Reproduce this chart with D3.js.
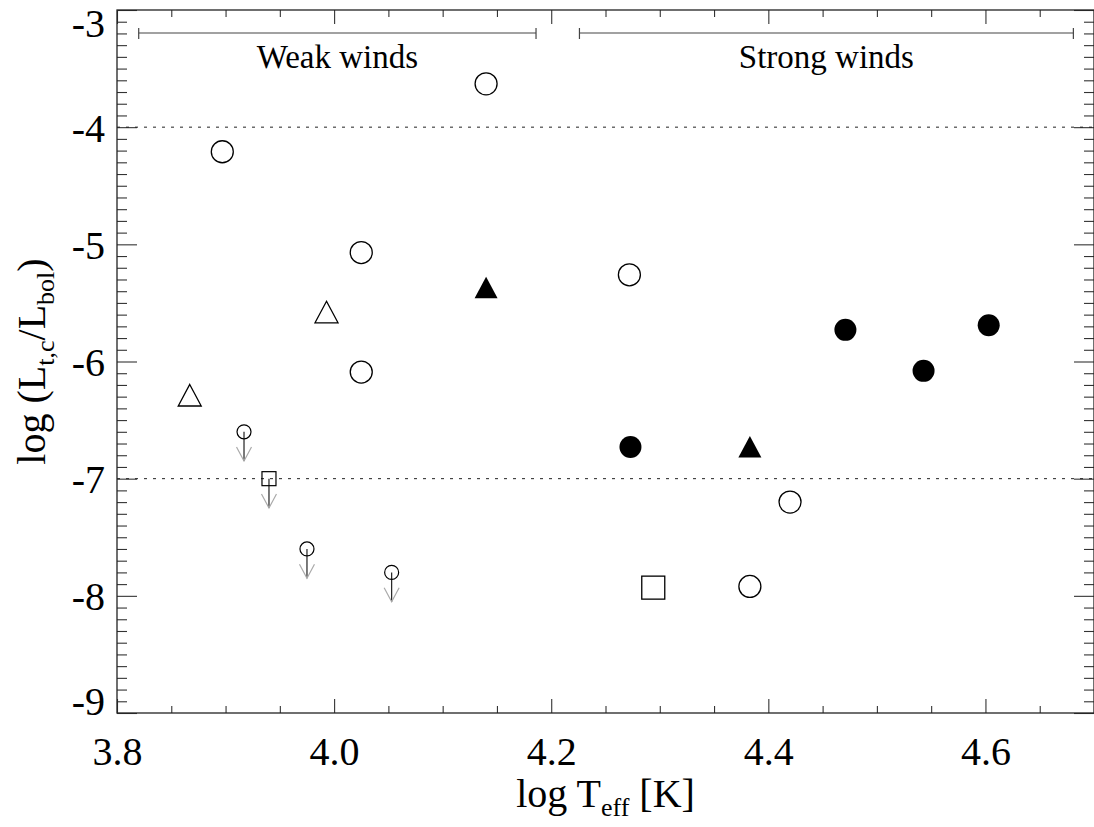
<!DOCTYPE html>
<meta charset="UTF-8">
<head>
  <style>
    html, body { margin: 0; padding: 0; background: #fff; overflow: hidden; }
    svg { display: block; }
    svg text { font-family: "Liberation Serif", "Times New Roman", serif; fill: #000; }
  </style>
</head>
<body>
  <svg id="chart" width="1094" height="827"></svg>
  <script src="https://d3js.org/d3.v7.min.js"></script>
  <script type="text/javascript">
    // data: log Teff and log(Lt,c/Lbol)
    const openCircleT = [4.140, 3.897, 4.025, 4.025, 4.272, 4.420, 4.383];
    const openCircleL = [-3.63, -4.21, -5.07, -6.09, -5.26, -7.20, -7.92];
    const filledCircleT = [4.273, 4.471, 4.543, 4.603];
    const filledCircleL = [-6.73, -5.73, -6.08, -5.69];
    const filledTriT = [4.140, 4.383];
    const filledTriL = [-5.37, -6.73];
    const openTriT = [3.993, 3.867];
    const openTriL = [-5.58, -6.29];
    const openSquareT = [4.294];
    const openSquareL = [-7.93];
    // upper limits
    const limitT = [3.917, 3.940, 3.975, 4.053];
    const limitL = [-6.60, -7.00, -7.60, -7.80];
    const limitShape = ["circle", "square", "circle", "circle"];
    const limitLength = 0.25;
    // wind regimes
    const regimeNames = ["Weak winds", "Strong winds"];
    const regimeStart = [3.82, 4.226];
    const regimeEnd = [4.186, 4.681];
    // reference levels
    const refLevels = [-4, -7];
    // ticks
    const xMajor = [3.8, 4.0, 4.2, 4.4, 4.6];
    const yMajor = [-3, -4, -5, -6, -7, -8, -9];

    const pLeft = 117, pRight = 1094, pTop = 10, pBottom = 713;
    const font = 40;

    var svg = d3.select("#chart");
    var x = d3.scaleLinear().domain([3.8, 4.7]).range([pLeft, pRight]);
    var y = d3.scaleLinear().domain([-9, -3]).range([pBottom, pTop]);

    var xMinor = d3.range(3.8, 4.7001, 0.05).filter(function (v) {
      return xMajor.every(function (m) { return Math.abs(m - v) > 1e-6; });
    });
    var yMinor = d3.range(-9, -2.999, 0.1).filter(function (v) {
      return yMajor.every(function (m) { return Math.abs(m - v) > 1e-6; });
    });

    function styleAxis(g) {
      g.select(".domain").remove();
      g.selectAll("line").attr("stroke", "#333").attr("stroke-width", 1.1);
    }

    // minor ticks
    svg.append("g").attr("transform", "translate(0," + pBottom + ")")
      .call(d3.axisBottom(x).tickValues(xMinor).tickSize(-7).tickFormat(""))
      .call(styleAxis);
    svg.append("g").attr("transform", "translate(0," + pTop + ")")
      .call(d3.axisTop(x).tickValues(xMinor).tickSize(-7).tickFormat(""))
      .call(styleAxis);
    svg.append("g").attr("transform", "translate(" + pLeft + ",0)")
      .call(d3.axisLeft(y).tickValues(yMinor).tickSize(-10).tickFormat(""))
      .call(styleAxis);
    svg.append("g").attr("transform", "translate(" + pRight + ",0)")
      .call(d3.axisRight(y).tickValues(yMinor).tickSize(-10).tickFormat(""))
      .call(styleAxis);

    // major ticks
    var xAxis = svg.append("g").attr("transform", "translate(0," + pBottom + ")")
      .call(d3.axisBottom(x).tickValues(xMajor).tickSizeInner(-14).tickSizeOuter(0)
        .tickPadding(24).tickFormat(d3.format(".1f")))
      .call(styleAxis);
    xAxis.attr("font-family", null).attr("font-size", null);
    xAxis.selectAll("text").attr("font-size", font);

    svg.append("g").attr("transform", "translate(0," + pTop + ")")
      .call(d3.axisTop(x).tickValues(xMajor).tickSize(-14).tickFormat(""))
      .call(styleAxis);

    var yAxis = svg.append("g").attr("transform", "translate(" + pLeft + ",0)")
      .call(d3.axisLeft(y).tickValues(yMajor).tickSizeInner(-20).tickSizeOuter(0)
        .tickPadding(12).tickFormat(function (d) { return String(d); }))
      .call(styleAxis);
    yAxis.attr("font-family", null).attr("font-size", null);
    yAxis.selectAll("text").attr("font-size", font)
      .attr("dy", null)
      .attr("y", function (d) {
        // keep the end labels inside the picture
        var b = y(d) + 14;
        return Math.max(36, Math.min(714, b)) - y(d);
      });

    svg.append("g").attr("transform", "translate(" + pRight + ",0)")
      .call(d3.axisRight(y).tickValues(yMajor).tickSize(-20).tickFormat(""))
      .call(styleAxis);

    // frame
    svg.append("rect")
      .attr("x", pLeft).attr("y", pTop)
      .attr("width", pRight - pLeft).attr("height", pBottom - pTop)
      .attr("fill", "none").attr("stroke", "#222").attr("stroke-width", 1.3);

    // dotted reference lines
    svg.selectAll("line.ref").data(refLevels).enter().append("line")
      .attr("class", "ref")
      .attr("x1", pLeft).attr("x2", pRight)
      .attr("y1", function (d) { return y(d); })
      .attr("y2", function (d) { return y(d); })
      .attr("stroke", "#222").attr("stroke-width", 1)
      .attr("stroke-dasharray", "3,6");

    // wind regime bars
    var barY = 33;
    var regimes = regimeNames.map(function (n, i) {
      return { name: n, a: regimeStart[i], b: regimeEnd[i] };
    });
    var reg = svg.selectAll("g.regime").data(regimes).enter().append("g").attr("class", "regime");
    reg.append("line")
      .attr("x1", function (d) { return x(d.a); }).attr("x2", function (d) { return x(d.b); })
      .attr("y1", barY).attr("y2", barY)
      .attr("stroke", "#444").attr("stroke-width", 1.2);
    reg.append("line")
      .attr("x1", function (d) { return x(d.a); }).attr("x2", function (d) { return x(d.a); })
      .attr("y1", barY - 5).attr("y2", barY + 6)
      .attr("stroke", "#444").attr("stroke-width", 1.2);
    reg.append("line")
      .attr("x1", function (d) { return x(d.b); }).attr("x2", function (d) { return x(d.b); })
      .attr("y1", barY - 5).attr("y2", barY + 6)
      .attr("stroke", "#444").attr("stroke-width", 1.2);
    reg.append("text")
      .attr("x", function (d) { return (x(d.a) + x(d.b)) / 2; })
      .attr("y", 68)
      .attr("text-anchor", "middle")
      .attr("font-size", 33)
      .text(function (d) { return d.name; });

    // axis titles
    var xt = svg.append("text")
      .attr("x", (pLeft + pRight) / 2).attr("y", 807)
      .attr("text-anchor", "middle").attr("font-size", font);
    xt.append("tspan").text("log T");
    xt.append("tspan").attr("font-size", 26).attr("dy", 9).text("eff");
    xt.append("tspan").attr("dy", -9).text(" [K]");

    var yt = svg.append("text")
      .attr("transform", "translate(45," + ((pTop + pBottom) / 2) + ") rotate(-90)")
      .attr("text-anchor", "middle").attr("font-size", font);
    yt.append("tspan").text("log (L");
    yt.append("tspan").attr("font-size", 26).attr("dy", 9).text("t,c");
    yt.append("tspan").attr("dy", -9).text("/L");
    yt.append("tspan").attr("font-size", 26).attr("dy", 9).text("bol");
    yt.append("tspan").attr("dy", -9).text(")");

    // markers
    function pts(ts, ls) {
      return ts.map(function (t, i) { return { t: t, l: ls[i] }; });
    }
    var marks = svg.append("g");

    marks.selectAll("circle.open").data(pts(openCircleT, openCircleL)).enter()
      .append("circle").attr("class", "open")
      .attr("cx", function (d) { return x(d.t); }).attr("cy", function (d) { return y(d.l); })
      .attr("r", 11).attr("fill", "none").attr("stroke", "#000").attr("stroke-width", 1.3);

    marks.selectAll("circle.filled").data(pts(filledCircleT, filledCircleL)).enter()
      .append("circle").attr("class", "filled")
      .attr("cx", function (d) { return x(d.t); }).attr("cy", function (d) { return y(d.l); })
      .attr("r", 11).attr("fill", "#000");

    var tri = "M0,-11L11.5,10.5L-11.5,10.5Z";
    marks.selectAll("path.ftri").data(pts(filledTriT, filledTriL)).enter()
      .append("path").attr("class", "ftri")
      .attr("transform", function (d) { return "translate(" + x(d.t) + "," + y(d.l) + ")"; })
      .attr("d", tri).attr("fill", "#000");

    marks.selectAll("path.otri").data(pts(openTriT, openTriL)).enter()
      .append("path").attr("class", "otri")
      .attr("transform", function (d) { return "translate(" + x(d.t) + "," + y(d.l) + ")"; })
      .attr("d", tri).attr("fill", "none").attr("stroke", "#000").attr("stroke-width", 1.3);

    marks.selectAll("rect.osq").data(pts(openSquareT, openSquareL)).enter()
      .append("rect").attr("class", "osq")
      .attr("x", function (d) { return x(d.t) - 11.5; }).attr("y", function (d) { return y(d.l) - 11.5; })
      .attr("width", 23).attr("height", 23)
      .attr("fill", "none").attr("stroke", "#000").attr("stroke-width", 1.3);

    // upper limits with arrows
    var lim = marks.selectAll("g.limit")
      .data(limitT.map(function (t, i) { return { t: t, l: limitL[i], s: limitShape[i] }; }))
      .enter().append("g").attr("class", "limit")
      .attr("transform", function (d) { return "translate(" + x(d.t) + "," + y(d.l) + ")"; });
    var arrowLen = y(-9) - y(-9 + limitLength);
    lim.append("line")
      .attr("x1", 0).attr("x2", 0).attr("y1", 0).attr("y2", arrowLen)
      .attr("stroke", "#222").attr("stroke-width", 1.2);
    lim.append("path")
      .attr("d", "M-7.5," + (arrowLen - 14) + "L0," + arrowLen + "L7.5," + (arrowLen - 14))
      .attr("fill", "none").attr("stroke", "#aaa").attr("stroke-width", 1.2);
    lim.filter(function (d) { return d.s === "circle"; }).append("circle")
      .attr("r", 7).attr("fill", "none").attr("stroke", "#000").attr("stroke-width", 1.2);
    lim.filter(function (d) { return d.s === "square"; }).append("rect")
      .attr("x", -7).attr("y", -7).attr("width", 14).attr("height", 14)
      .attr("fill", "none").attr("stroke", "#000").attr("stroke-width", 1.2);
  </script>
</body>
